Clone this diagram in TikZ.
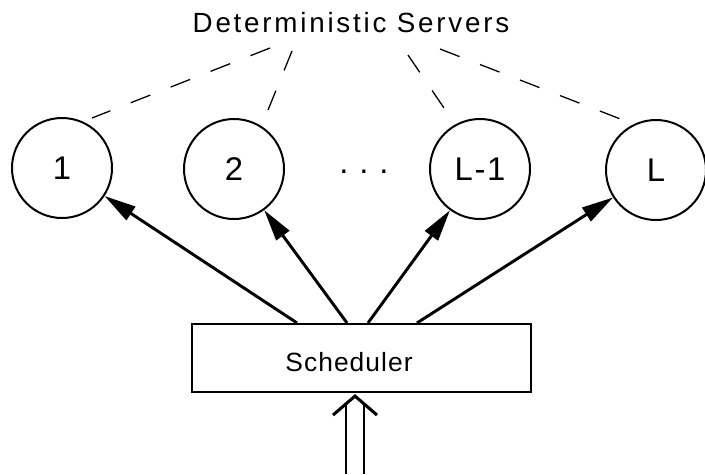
\documentclass[tikz,border=0pt]{standalone}
\usepackage{fontspec}
\setmainfont{Liberation Sans}
\newfontfamily\titlefont[LetterSpace=10]{Liberation Sans}
\newfontfamily\schfont[LetterSpace=4]{Liberation Sans}
\newfontfamily\numfont[LetterSpace=5]{Liberation Sans}
\usetikzlibrary{arrows.meta,calc}
\tikzset{
  server/.style={circle,draw,line width=1.7pt,minimum size=3cm,inner sep=0pt,
    font=\numfont\fontsize{28pt}{32pt}\selectfont},
  schbox/.style={rectangle,draw,line width=1.8pt,minimum width=10.17cm,minimum height=2.04cm,inner sep=0pt},
  arr/.style={line width=2.5pt,-{Triangle[length=27pt,width=13.5pt]}},
  dline/.style={line width=1.1pt,dash pattern=on 17.9pt off 18.7pt},
  inline/.style={line width=2.5pt},
  chev/.style={line width=2.6pt,miter limit=10}
}
\begin{document}
\begin{tikzpicture}[x=0.03cm,y=-0.03cm]
\useasboundingbox (0,0) rectangle (705,474);
% title
\node[anchor=base,inner sep=0pt,font=\titlefont\fontsize{23.7pt}{28pt}\selectfont] (title) at (351,32) {Deterministic Servers};
% servers
\node[server] (c1) at (62,168) {1};
\node[server] (c2) at (234,169) {2};
\node[inner sep=0pt,font=\numfont\fontsize{28pt}{32pt}\selectfont] (dots) at (364,172) {.\,\,.\,\,.};
\node[server] (c3) at (480,169) {L-1};
\node[server] (c4) at (656,170) {L};
% dashed lines from title
\coordinate (d1a) at (270,48); \coordinate (d1b) at (92,118);
\coordinate (d2a) at (292,51); \coordinate (d2b) at (268,110);
\coordinate (d3a) at (408,55); \coordinate (d3b) at (444,108);
\coordinate (d4a) at (440,49); \coordinate (d4b) at (623,120);
\draw[dline] (d1a) -- (d1b);
\draw[dline] (d2a) -- (d2b);
\draw[dline] (d3a) -- (d3b);
\draw[dline] (d4a) -- (d4b);
% scheduler
\node[schbox] (sch) at (361.5,358) {};
\node[anchor=base,inner sep=0pt,font=\schfont\fontsize{22.5pt}{27pt}\selectfont] (schlabel) at (349,371) {Scheduler};
% arrows to servers
\coordinate (s1) at ($(sch.north)+(-64.5,0)$);
\coordinate (s2) at ($(sch.north)+(-14.5,0)$);
\coordinate (s3) at ($(sch.north)+(6.5,0)$);
\coordinate (s4) at ($(sch.north)+(55.5,0)$);
\draw[arr] (s1) -- (c1);
\draw[arr] (s2) -- (c2);
\draw[arr] (s3) -- (c3);
\draw[arr] (s4) -- (c4);
% input double arrow
\coordinate (in) at (355,474);
\coordinate (apex) at ($(in |- sch.south)+(0,3)$);
\draw[inline] ($(in)+(-9,0)$) -- ($(in |- apex)+(-9,8)$);
\draw[inline] ($(in)+(9,0)$) -- ($(in |- apex)+(9,8)$);
\draw[chev] ($(apex)+(-22,19)$) -- (apex) -- ($(apex)+(22,19)$);
\end{tikzpicture}
\end{document}
